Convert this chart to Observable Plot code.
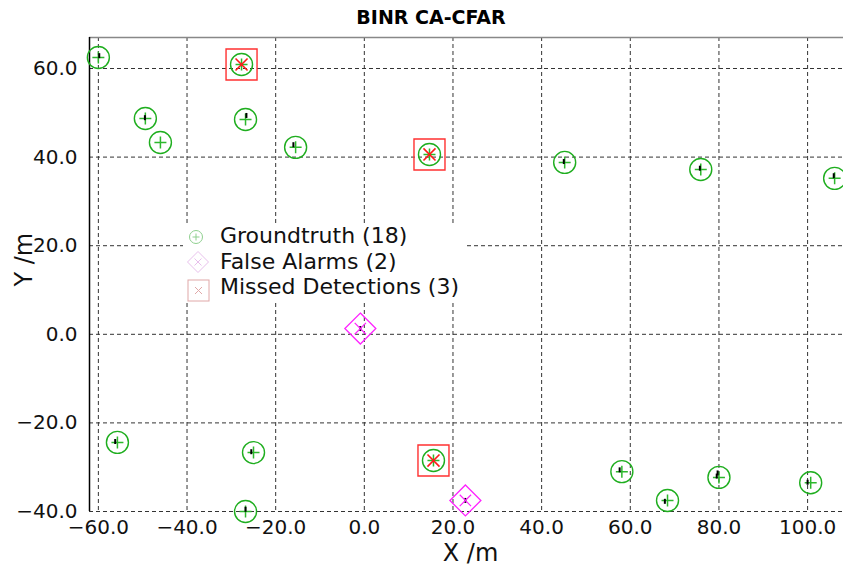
<!DOCTYPE html>
<html><head><meta charset="utf-8">
<script src="https://cdn.jsdelivr.net/npm/d3@7"></script>
<script src="https://cdn.jsdelivr.net/npm/@observablehq/plot@0.6"></script>
<style>
body{margin:0;background:#fff;font-family:"DejaVu Sans",sans-serif;}
#wrap{position:relative;width:843px;height:568px;overflow:hidden;}
#title{position:absolute;left:0;top:6px;width:862px;text-align:center;font-weight:bold;font-size:19px;line-height:22px;color:#000;}
#chart{position:absolute;left:0;top:30px;}
#chart g[aria-label$="tick label"]{font-size:20px;}
#legend{position:absolute;left:183px;top:224px;width:282px;height:78px;background:#fff;}
#legend div{position:absolute;left:37px;font-size:22px;line-height:24px;color:#111;white-space:nowrap;}
</style></head><body>
<div id="wrap">
  <div id="title">BINR CA-CFAR</div>
  <div id="chart"></div>
  <div id="legend"></div>
</div>
<script>
// ---- data ----
const xTicks = [-60, -40, -20, 0, 20, 40, 60, 80, 100];
const yTicks = [-40, -20, 0, 20, 40, 60];
const xDomain = [-62, 108.1];
const yDomain = [-40, 67];

const gtX = [-60.0, -27.7, -49.4, -46.0, -26.8, -15.5, 14.7, 45.2, 75.9, 106.1, -55.7, -25.0, -26.8, 15.6, 58.1, 68.4, 80.0, 100.7];
const gtY = [62.5, 60.9, 48.7, 43.3, 48.5, 42.2, 40.6, 38.8, 37.2, 35.2, -24.4, -26.7, -40.0, -28.5, -31.0, -37.5, -32.3, -33.5];

const faX = [-0.9, 22.8];
const faY = [1.3, -37.5];

const mdX = [-27.7, 14.7, 15.6];
const mdY = [60.9, 40.6, -28.5];

const detX = [-59.8, -49.5, -26.6, -16.0, 45.0, 75.7, 105.9, -56.2, -25.5, -26.8, 57.6, 67.8, 79.5, 79.7, 100.0, -0.9, 22.8];
const detY = [62.9, 48.9, 49.4, 42.8, 39.0, 37.5, 35.8, -24.2, -26.5, -39.5, -30.6, -37.7, -32.0, -31.3, -33.4, 1.3, -37.5];

const legendLabels = ["Groundtruth (18)", "False Alarms (2)", "Missed Detections (3)"];

// ---- tables ----
const gt = gtX.map((x, i) => ({x, y: gtY[i]}));
const fa = faX.map((x, i) => ({x, y: faY[i]}));
const md = mdX.map((x, i) => ({x, y: mdY[i]}));
const det = detX.map((x, i) => ({x, y: detY[i]}));

// ---- custom stroke symbols ----
const sym = f => ({draw(c, size) { const r = Math.sqrt(size / Math.PI); f(c, r); }});
const plusSym = sym((c, r) => { c.moveTo(-r, 0); c.lineTo(r, 0); c.moveTo(0, -r); c.lineTo(0, r); });
const xSym = sym((c, r) => { const a = r * Math.SQRT1_2; c.moveTo(-a, -a); c.lineTo(a, a); c.moveTo(-a, a); c.lineTo(a, -a); });
const diamondSym = sym((c, r) => { c.moveTo(0, -r); c.lineTo(r, 0); c.lineTo(0, r); c.lineTo(-r, 0); c.closePath(); });
const squareSym = sym((c, r) => { c.rect(-r, -r, 2 * r, 2 * r); });
const barSym = sym((c, r) => { c.moveTo(0, -r); c.lineTo(0, r); });

const chart = Plot.plot({
  width: 843,
  height: 538,
  marginTop: 7,
  marginBottom: 57,
  marginLeft: 89,
  marginRight: 0,
  style: {fontFamily: "DejaVu Sans, sans-serif", fontSize: "20px", color: "#111", background: "#fff"},
  x: {domain: xDomain},
  y: {domain: yDomain},
  marks: [
    Plot.gridX(xTicks, {stroke: "#333", strokeOpacity: 1, strokeDasharray: "4,3"}),
    Plot.gridY(yTicks, {stroke: "#333", strokeOpacity: 1, strokeDasharray: "4,3"}),
    Plot.ruleY([yDomain[1]], {stroke: "#888", strokeWidth: 1.5}),
    Plot.ruleX([xDomain[0]], {stroke: "#000", strokeWidth: 1.5}),
    Plot.axisX(xTicks, {tickSize: 0, tickPadding: 8, tickFormat: d3.format(".1f"), fontSize: 20, label: null}),
    Plot.axisY(yTicks, {tickSize: 0, tickPadding: 12, tickFormat: d3.format(".1f"), fontSize: 20, label: null}),
    Plot.text(["X /m"], {frameAnchor: "bottom", dx: 4, dy: 49, fontSize: 24}),
    Plot.text(["Y /m"], {frameAnchor: "left", rotate: -90, dx: -65, dy: 12, fontSize: 24}),
    // groundtruth
    Plot.dot(gt, {x: "x", y: "y", r: 11, stroke: "#1fae1f", strokeWidth: 1.4, fill: "none"}),
    Plot.dot(gt, {x: "x", y: "y", r: 6, symbol: plusSym, stroke: "#2db82d", strokeWidth: 1.5, fill: "none"}),
    // detections
    Plot.dot(det, {x: "x", y: "y", r: 2.5, symbol: barSym, stroke: "#000", strokeWidth: 2, fill: "none"}),
    // false alarms
    Plot.dot(fa, {x: "x", y: "y", r: 15.5, symbol: diamondSym, stroke: "#ff22ff", strokeWidth: 1.3, fill: "none"}),
    Plot.dot(fa, {x: "x", y: "y", r: 8, symbol: xSym, stroke: "#ff22ff", strokeWidth: 1.2, fill: "none"}),
    // missed detections
    Plot.dot(md, {x: "x", y: "y", r: 15.5, symbol: squareSym, stroke: "#ff3030", strokeWidth: 1.4, fill: "none"}),
    Plot.dot(md, {x: "x", y: "y", r: 8.5, symbol: xSym, stroke: "#ff1a1a", strokeWidth: 1.6, fill: "none"})
  ]
});
document.getElementById("chart").append(chart);

// ---- legend ----
const legend = document.getElementById("legend");
const ns = "http://www.w3.org/2000/svg";
const lsvg = document.createElementNS(ns, "svg");
lsvg.setAttribute("width", 282); lsvg.setAttribute("height", 78);
lsvg.style.position = "absolute"; lsvg.style.left = "0"; lsvg.style.top = "0";
const shapes = [
  `<circle cx="13" cy="13" r="6.5" fill="none" stroke="#8fd08f" stroke-width="1"/>
   <path d="M9.5,13H16.5M13,9.5V16.5" stroke="#8fd08f" stroke-width="1"/>`,
  `<path d="M15,27.5L25.5,38L15,48.5L4.5,38Z" fill="none" stroke="#e8c0ec" stroke-width="1"/>
   <path d="M11.5,34.5L18.5,41.5M11.5,41.5L18.5,34.5" stroke="#e8c0ec" stroke-width="1"/>`,
  `<rect x="5" y="56" width="21" height="21" fill="none" stroke="#e0a8a8" stroke-width="1"/>
   <path d="M12,63L19,70M12,70L19,63" stroke="#e0a8a8" stroke-width="1"/>`
];
lsvg.innerHTML = shapes.join("");
legend.append(lsvg);
legendLabels.forEach((t, i) => {
  const d = document.createElement("div");
  d.textContent = t;
  d.style.top = (i * 25.5) + "px";
  legend.append(d);
});
</script>
</body></html>
